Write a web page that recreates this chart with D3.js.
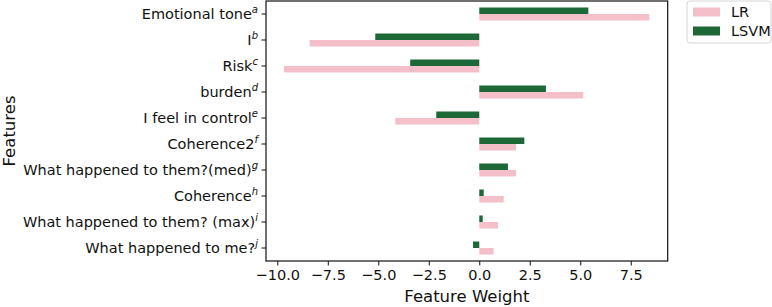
<!DOCTYPE html>
<html>
<head>
<meta charset="utf-8">
<script src="https://cdn.jsdelivr.net/npm/d3@7"></script>
<style>
  body { margin: 0; background: #fff; }
  svg text { font-family: "DejaVu Sans", sans-serif; fill: #111; }
</style>
</head>
<body>
<div id="chart"></div>
<script>
// features, top to bottom, with their superscript marks
const features = ["Emotional tone", "I", "Risk", "burden", "I feel in control",
    "Coherence2", "What happened to them?(med)", "Coherence",
    "What happened to them? (max)", "What happened to me?"];
const marks = ["a", "b", "c", "d", "e", "f", "g", "h", "i", "j"];
const lrWeights = [8.42, -8.40, -9.67, 5.15, -4.16, 1.82, 1.82, 1.21, 0.93, 0.71];
const svmWeights = [5.40, -5.15, -3.42, 3.30, -2.13, 2.23, 1.42, 0.22, 0.17, -0.31];
const xTicks = [-10, -7.5, -5, -2.5, 0, 2.5, 5, 7.5];
const seriesNames = ["LR", "LSVM"];
const colors = { LR: "#f5bfca", LSVM: "#1c6836" };

const W = 772, H = 307;
const plotLeft = 266, plotRight = 667.7, plotTop = 1, plotBottom = 261;

let svg = d3.select("#chart").append("svg")
    .attr("width", W)
    .attr("height", H);

let x = d3.scaleLinear()
    .domain([-10.56, 9.33])
    .range([plotLeft, plotRight]);

let y = d3.scaleLinear()
    .domain([-0.5, 9.5])
    .range([plotTop, plotBottom]);

const barH = y(0.25) - y(0);

let g = svg.append("g");

// LSVM bar above the category centre, LR bar below it
g.selectAll(".svm")
    .data(svmWeights)
    .enter()
    .append("rect")
    .attr("x", function(d) { return x(Math.min(0, d)); })
    .attr("y", function(d, i) { return y(i) - barH; })
    .attr("width", function(d) { return Math.abs(x(d) - x(0)); })
    .attr("height", barH)
    .attr("fill", colors.LSVM);

g.selectAll(".lr")
    .data(lrWeights)
    .enter()
    .append("rect")
    .attr("x", function(d) { return x(Math.min(0, d)); })
    .attr("y", function(d, i) { return y(i); })
    .attr("width", function(d) { return Math.abs(x(d) - x(0)); })
    .attr("height", barH)
    .attr("fill", colors.LR);

// frame
svg.append("rect")
    .attr("x", plotLeft)
    .attr("y", plotTop)
    .attr("width", plotRight - plotLeft)
    .attr("height", plotBottom - plotTop)
    .attr("fill", "none")
    .attr("stroke", "#111")
    .attr("stroke-width", 1.2);

// x axis
let xAxis = svg.append("g")
    .attr("transform", "translate(0," + plotBottom + ")")
    .call(d3.axisBottom(x)
        .tickValues(xTicks)
        .tickSize(4.5)
        .tickPadding(4)
        .tickFormat(function(d) { return d3.format(".1f")(d).replace("-", "\u2212"); }));
xAxis.select(".domain").remove();
xAxis.selectAll("line").attr("stroke", "#111").attr("stroke-width", 1);
xAxis.selectAll("text")
    .style("font-family", "DejaVu Sans, sans-serif")
    .style("font-size", "14.5px")
    .attr("fill", "#111");

// y axis ticks and labels with superscripts
let yAxis = svg.append("g");
yAxis.selectAll("line")
    .data(features)
    .enter()
    .append("line")
    .attr("x1", plotLeft - 4.5)
    .attr("x2", plotLeft)
    .attr("y1", function(d, i) { return y(i); })
    .attr("y2", function(d, i) { return y(i); })
    .attr("stroke", "#111");

let labels = yAxis.selectAll("text")
    .data(features)
    .enter()
    .append("text")
    .attr("x", plotLeft - 8)
    .attr("y", function(d, i) { return y(i) + 5; })
    .attr("text-anchor", "end")
    .style("font-size", "14.5px");
labels.append("tspan").text(function(d) { return d; });
labels.append("tspan")
    .attr("dy", -6)
    .style("font-size", "10px")
    .style("font-style", "italic")
    .text(function(d, i) { return marks[i]; });

// axis titles
svg.append("text")
    .attr("x", (plotLeft + plotRight) / 2)
    .attr("y", 302)
    .attr("text-anchor", "middle")
    .style("font-size", "16.5px")
    .text("Feature Weight");

svg.append("text")
    .attr("transform", "translate(15," + (plotTop + plotBottom) / 2 + ") rotate(-90)")
    .attr("text-anchor", "middle")
    .style("font-size", "16.5px")
    .text("Features");

// legend
let legend = svg.append("g").attr("transform", "translate(687,1)");
legend.append("rect")
    .attr("width", 84)
    .attr("height", 42)
    .attr("rx", 3)
    .attr("fill", "#fff")
    .attr("stroke", "#d6d6d6");
seriesNames.forEach(function(name, i) {
    legend.append("rect")
        .attr("x", 6)
        .attr("y", 6.5 + i * 19)
        .attr("width", 27)
        .attr("height", 9)
        .attr("fill", colors[name]);
    legend.append("text")
        .attr("x", 44)
        .attr("y", 16 + i * 19)
        .style("font-size", "14.5px")
        .text(name);
});
</script>
</body>
</html>
